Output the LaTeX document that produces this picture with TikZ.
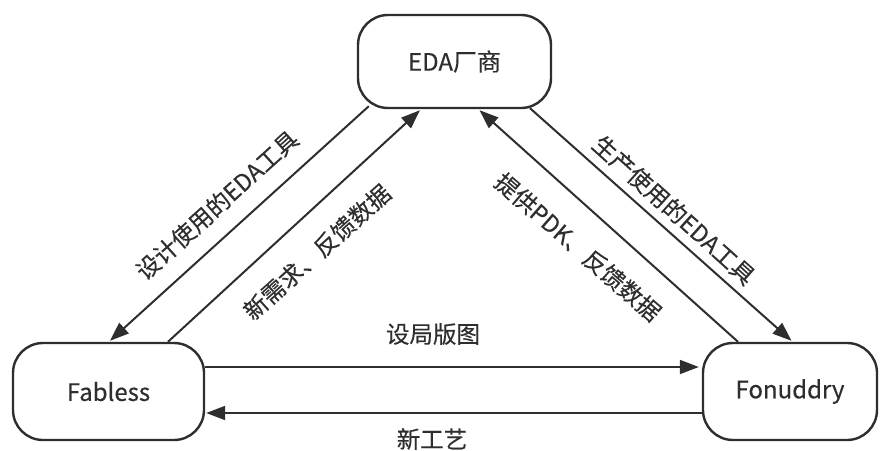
\documentclass[tikz,border=0pt]{standalone}
\usepackage{fontspec}
\setmainfont{Noto Sans CJK SC}[UprightFeatures={FakeBold=0.3}]
\usetikzlibrary{arrows.meta,calc}
\definecolor{ink}{HTML}{2E2E2E}
\tikzset{
  box/.style={draw=ink, line width=2.4pt, rounded corners=30pt, fill=white, inner sep=0pt, font=\fontsize{24}{27}\selectfont, text=ink},
  conn/.style={draw=ink, line width=2pt, -{Triangle[length=19pt,width=14pt]}},
  lbl/.style={font=\fontsize{23.5}{27}\selectfont, text=ink, inner sep=0pt}
}
\begin{document}
\begin{tikzpicture}[x=1pt,y=-1pt]
\useasboundingbox (0,0) rectangle (880,450);
\node[box, minimum width=193pt, minimum height=93pt] (eda) at (454.5,61.5) {EDA厂商};
\node[box, minimum width=191pt, minimum height=97pt] (fab) at (108.5,391.5) {Fabless};
\node[box, minimum width=174pt, minimum height=97pt] (fon) at (790,391.5) {Fonuddry};

\draw[conn] ($(eda.south west)+(12,-3)$) -- ($(fab.north)+(1.5,-1)$);
\draw[conn] ($(fab.north)+(59.5,0)$) -- ($(eda.south)+(-34.5,1)$);
\draw[conn] ($(fon.north)+(-52,0)$) -- ($(eda.south)+(25,1)$);
\draw[conn] ($(eda.south)+(75.5,-1)$) -- ($(fon.north)+(1.5,-1)$);
\draw[conn] ($(fab.east)+(0,-24.5)$) -- ($(fon.west)+(-3,-24.5)$);
\draw[conn] ($(fon.west)+(0,21.5)$) -- ($(fab.east)+(1,21.5)$);

\node[lbl] (l1) at (433,334) {设局版图};
\node[lbl] (l2) at (432,439) {新工艺};
\node[lbl, rotate=42] (l3) at (217,205) {设计使用的EDA工具};
\node[lbl, rotate=42] (l4) at (317,252) {新需求、反馈数据};
\node[lbl, rotate=-41] (l5) at (578,247) {提供PDK、反馈数据};
\node[lbl, rotate=-42] (l6) at (674,210) {生产使用的EDA工具};
\end{tikzpicture}
\end{document}
